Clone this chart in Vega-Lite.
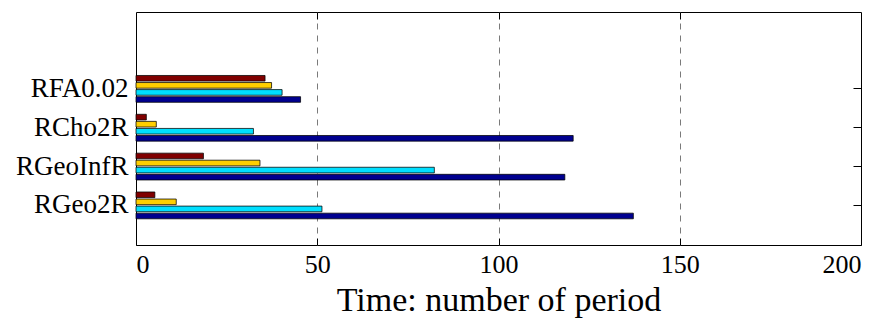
{
  "$schema": "https://vega.github.io/schema/vega-lite/v6.json",
  "autosize": {"type": "none"},
  "padding": {"left": 136, "top": 12, "right": 26, "bottom": 78},
  "width": 725,
  "height": 233,
  "background": "white",
  "config": {
    "font": "Liberation Serif",
    "view": {"stroke": "black", "strokeWidth": 1},
    "axis": {
      "labelColor": "black",
      "titleColor": "black",
      "titleFontWeight": "normal",
      "domain": false,
      "tickColor": "black",
      "labelFont": "Liberation Serif",
      "titleFont": "Liberation Serif"
    }
  },
  "data": {
    "values": [
      {"method": "RFA0.02", "series": "s1", "value": 45.4},
      {"method": "RFA0.02", "series": "s2", "value": 40.3},
      {"method": "RFA0.02", "series": "s3", "value": 37.4},
      {"method": "RFA0.02", "series": "s4", "value": 35.6},
      {"method": "RCho2R", "series": "s1", "value": 120.6},
      {"method": "RCho2R", "series": "s2", "value": 32.4},
      {"method": "RCho2R", "series": "s3", "value": 5.6},
      {"method": "RCho2R", "series": "s4", "value": 2.85},
      {"method": "RGeoInfR", "series": "s1", "value": 118.3},
      {"method": "RGeoInfR", "series": "s2", "value": 82.3},
      {"method": "RGeoInfR", "series": "s3", "value": 34.2},
      {"method": "RGeoInfR", "series": "s4", "value": 18.6},
      {"method": "RGeo2R", "series": "s1", "value": 137.2},
      {"method": "RGeo2R", "series": "s2", "value": 51.3},
      {"method": "RGeo2R", "series": "s3", "value": 11.1},
      {"method": "RGeo2R", "series": "s4", "value": 5.2}
    ]
  },
  "resolve": {"axis": {"x": "independent", "y": "independent"}},
  "layer": [
    {
      "mark": {"type": "bar", "stroke": "black", "strokeWidth": 0.75, "cornerRadius": 0},
      "encoding": {
        "y": {
          "field": "method",
          "type": "nominal",
          "sort": ["RFA0.02", "RCho2R", "RGeoInfR", "RGeo2R"],
          "scale": {"paddingInner": 0, "paddingOuter": 1, "align": 0.74},
          "axis": {
            "title": null,
            "orient": "left",
            "ticks": false,
            "labelFontSize": 27,
            "labelPadding": 8
          }
        },
        "yOffset": {
          "field": "series",
          "type": "nominal",
          "sort": ["s4", "s3", "s2", "s1"],
          "scale": {"paddingInner": 0.2, "paddingOuter": 0.85}
        },
        "x": {
          "field": "value",
          "type": "quantitative",
          "scale": {"domain": [0, 200], "nice": false, "zero": true},
          "axis": {
            "orient": "bottom",
            "title": "Time: number of period",
            "titleFontSize": 34,
            "titleBaseline": "alphabetic",
            "titleY": 65,
            "values": [0, 50, 100, 150, 200],
            "labelFontSize": 26,
            "tickSize": -7,
            "labelPadding": 13,
            "grid": true,
            "gridColor": "#7a7a7a",
            "gridDash": [6, 6],
            "gridWidth": 1,
            "gridOpacity": {
              "condition": {"test": "datum.value === 0 || datum.value === 200", "value": 0},
              "value": 1
            }
          }
        },
        "color": {
          "field": "series",
          "type": "nominal",
          "scale": {
            "domain": ["s1", "s2", "s3", "s4"],
            "range": ["#00008F", "#00DFFF", "#FFCF00", "#800000"]
          },
          "legend": null
        }
      }
    },
    {
      "mark": {"type": "point", "opacity": 0},
      "encoding": {
        "y": {
          "field": "method",
          "type": "nominal",
          "sort": ["RFA0.02", "RCho2R", "RGeoInfR", "RGeo2R"],
          "axis": {"orient": "right", "title": null, "labels": false, "tickSize": -8, "grid": false}
        },
        "x": {
          "field": "value",
          "type": "quantitative",
          "axis": {"orient": "top", "title": null, "labels": false, "values": [50, 100, 150], "tickSize": -7, "grid": false}
        }
      }
    }
  ]
}
